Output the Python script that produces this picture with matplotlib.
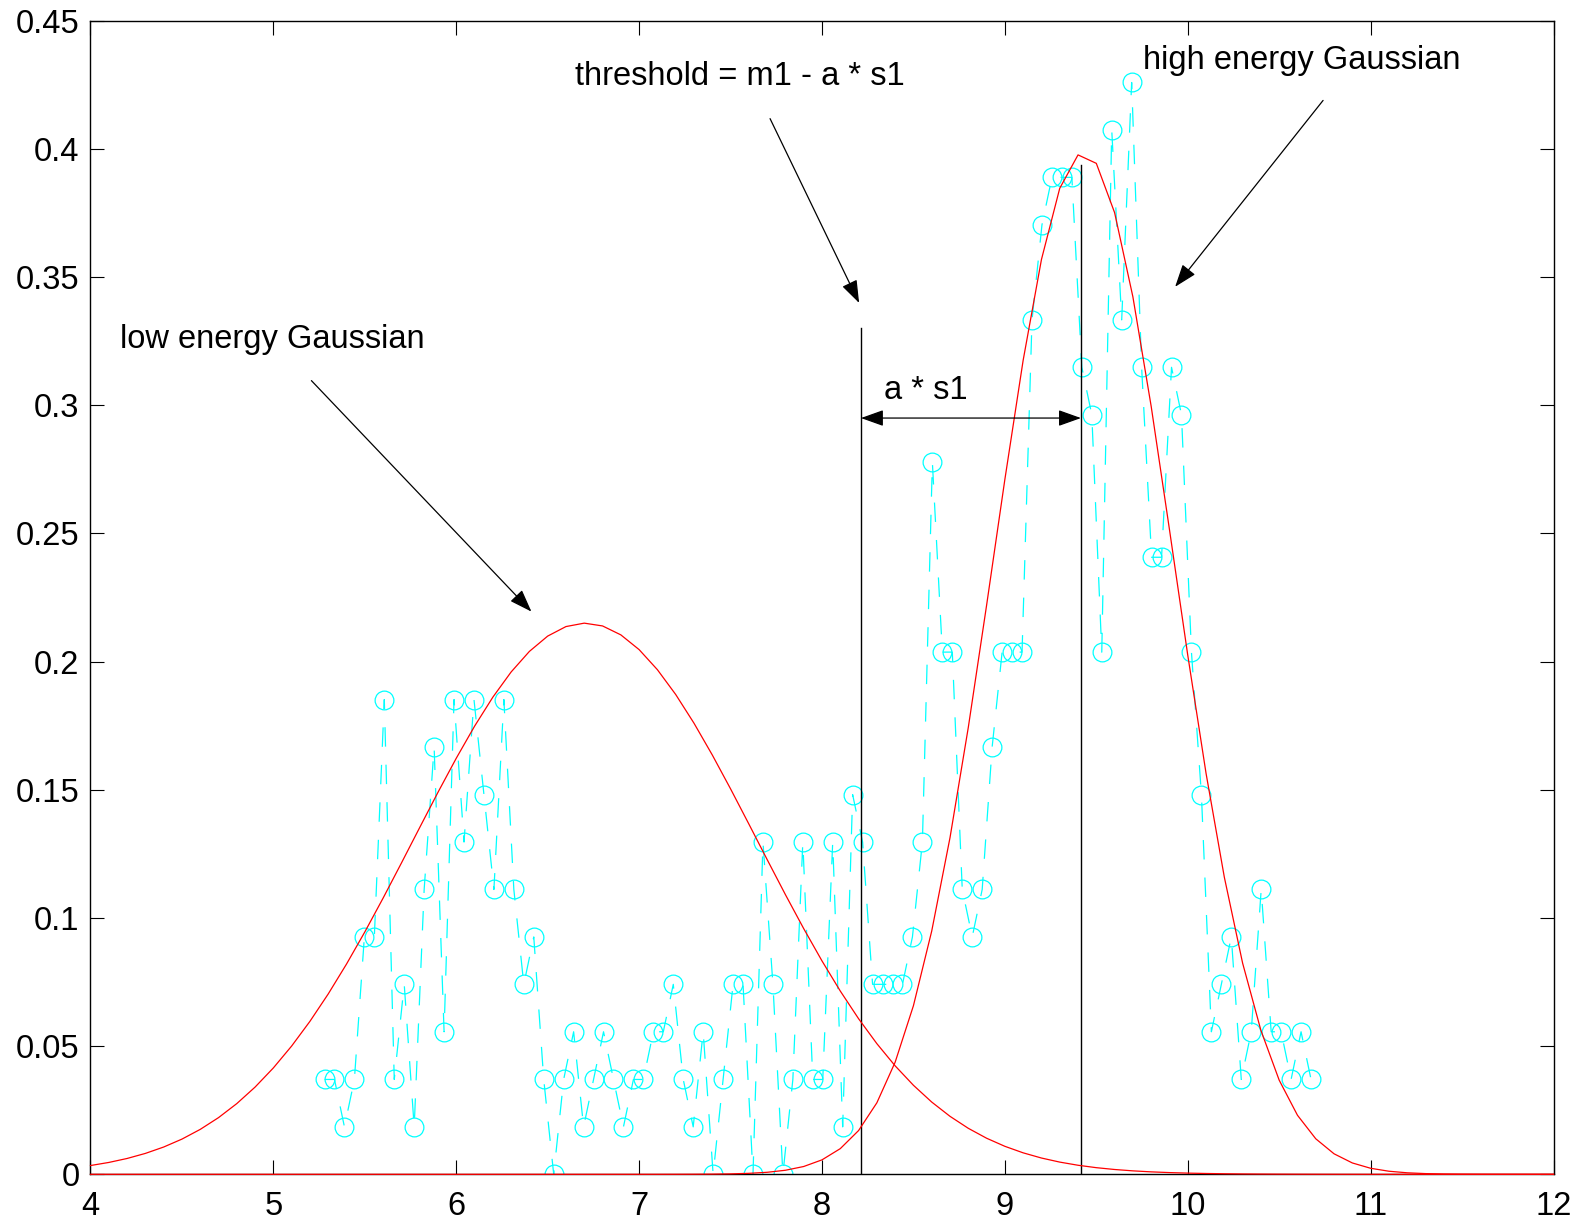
import numpy as np
import matplotlib
matplotlib.use('Agg')
import matplotlib.pyplot as plt

plt.rcParams['font.family'] = ['Liberation Sans', 'DejaVu Sans']
plt.rcParams['lines.scale_dashes'] = False

# normalised histogram of the log energies, equally spaced bins
bin_start = 5.2796
bin_step = 0.05449
hist_vals = [
    0.037, 0.037, 0.0185, 0.037, 0.0926, 0.0926, 0.1852, 0.037, 0.0741, 0.0185,
    0.1111, 0.1667, 0.0556, 0.1852, 0.1296, 0.1852, 0.1481, 0.1111, 0.1852, 0.1111,
    0.0741, 0.0926, 0.037, 0.0, 0.037, 0.0556, 0.0185, 0.037, 0.0556, 0.037,
    0.0185, 0.037, 0.037, 0.0556, 0.0556, 0.0741, 0.037, 0.0185, 0.0556, 0.0,
    0.037, 0.0741, 0.0741, 0.0, 0.1296, 0.0741, 0.0, 0.037, 0.1296, 0.037,
    0.037, 0.1296, 0.0185, 0.1481, 0.1296, 0.0741, 0.0741, 0.0741, 0.0741, 0.0926,
    0.1296, 0.2778, 0.2037, 0.2037, 0.1111, 0.0926, 0.1111, 0.1667, 0.2037, 0.2037,
    0.2037, 0.3333, 0.3704, 0.3889, 0.3889, 0.3889, 0.3148, 0.2963, 0.2037, 0.4074,
    0.3333, 0.4259, 0.3148, 0.2407, 0.2407, 0.3148, 0.2963, 0.2037, 0.1481, 0.0556,
    0.0741, 0.0926, 0.037, 0.0556, 0.1111, 0.0556, 0.0556, 0.037, 0.0556, 0.037,
]

# fitted gaussians: (mean, sigma, peak height)
low_fit = (6.705, 0.94, 0.2150)
high_fit = (9.43, 0.49, 0.3984)

# threshold = m1 - a * s1
m1 = 9.416
a_s1 = 1.203
threshold = m1 - a_s1
threshold_top = 0.3302
m1_top = 0.3937

x_ticks = [4, 5, 6, 7, 8, 9, 10, 11, 12]
y_ticks = [0, 0.05, 0.1, 0.15, 0.2, 0.25, 0.3, 0.35, 0.4, 0.45]
y_labels = ['0', '0.05', '0.1', '0.15', '0.2', '0.25', '0.3', '0.35', '0.4', '0.45']


def gauss(x, fit):
    m, s, h = fit
    return h * np.exp(-(x - m) ** 2 / (2 * s ** 2))


fig = plt.figure(figsize=(15.75, 12.19), dpi=100)
ax = fig.add_axes([0.05746, 0.03667, 0.92889, 0.94635])

bins = bin_start + bin_step * np.arange(len(hist_vals))
ax.plot(bins, hist_vals, color='#00ffff', lw=0.9, dashes=(14, 13),
        marker='o', ms=13.5, mfc='none', mec='#00ffff', mew=0.9, zorder=2)

xf = np.linspace(4, 12, 81)
ax.plot(xf, gauss(xf, low_fit), color='red', lw=0.9, zorder=3, clip_on=False)
ax.plot(xf, gauss(xf, high_fit), color='red', lw=0.9, zorder=3, clip_on=False)

ax.plot([threshold, threshold], [0, threshold_top], color='black', lw=1.0, zorder=2.6)
ax.plot([m1, m1], [0, m1_top], color='black', lw=1.0, zorder=2.6)

fs = 23.5
head = '-|>,head_length=1.4,head_width=0.5'
ap = dict(arrowstyle=head, color='black', lw=0.9, shrinkA=0, shrinkB=0, mutation_scale=10)

ax.text(4.159, 0.3222, 'low energy Gaussian', fontsize=fs, va='baseline')
ax.annotate('', xy=(6.411, 0.2195), xytext=(5.208, 0.3096), arrowprops=ap)

ax.text(6.647, 0.4249, 'threshold = m1 - a * s1', fontsize=fs, va='baseline')
ax.annotate('', xy=(8.203, 0.3399), xytext=(7.716, 0.4118), arrowprops=ap)

ax.text(9.754, 0.4310, 'high energy Gaussian', fontsize=fs, va='baseline')
ax.annotate('', xy=(9.931, 0.3462), xytext=(10.740, 0.4189), arrowprops=ap)

ax.text(8.339, 0.3023, 'a * s1', fontsize=fs, va='baseline')
ap2 = dict(ap, arrowstyle='<|-|>,head_length=1.4,head_width=0.5')
ax.annotate('', xy=(m1, 0.2950), xytext=(threshold, 0.2950), arrowprops=ap2)

ax.set_xlim(4, 12)
ax.set_ylim(0, 0.45)
ax.set_xticks(x_ticks)
ax.set_xticklabels([str(t) for t in x_ticks])
ax.set_yticks(y_ticks)
ax.set_yticklabels(y_labels)
ax.tick_params(direction='in', length=10, width=0.8, top=True, right=True,
               labelsize=fs, pad=8)
ax.tick_params(axis='x', pad=12)
for sp in ax.spines.values():
    sp.set_linewidth(1.0)

fig.savefig('out.png', dpi=100)
